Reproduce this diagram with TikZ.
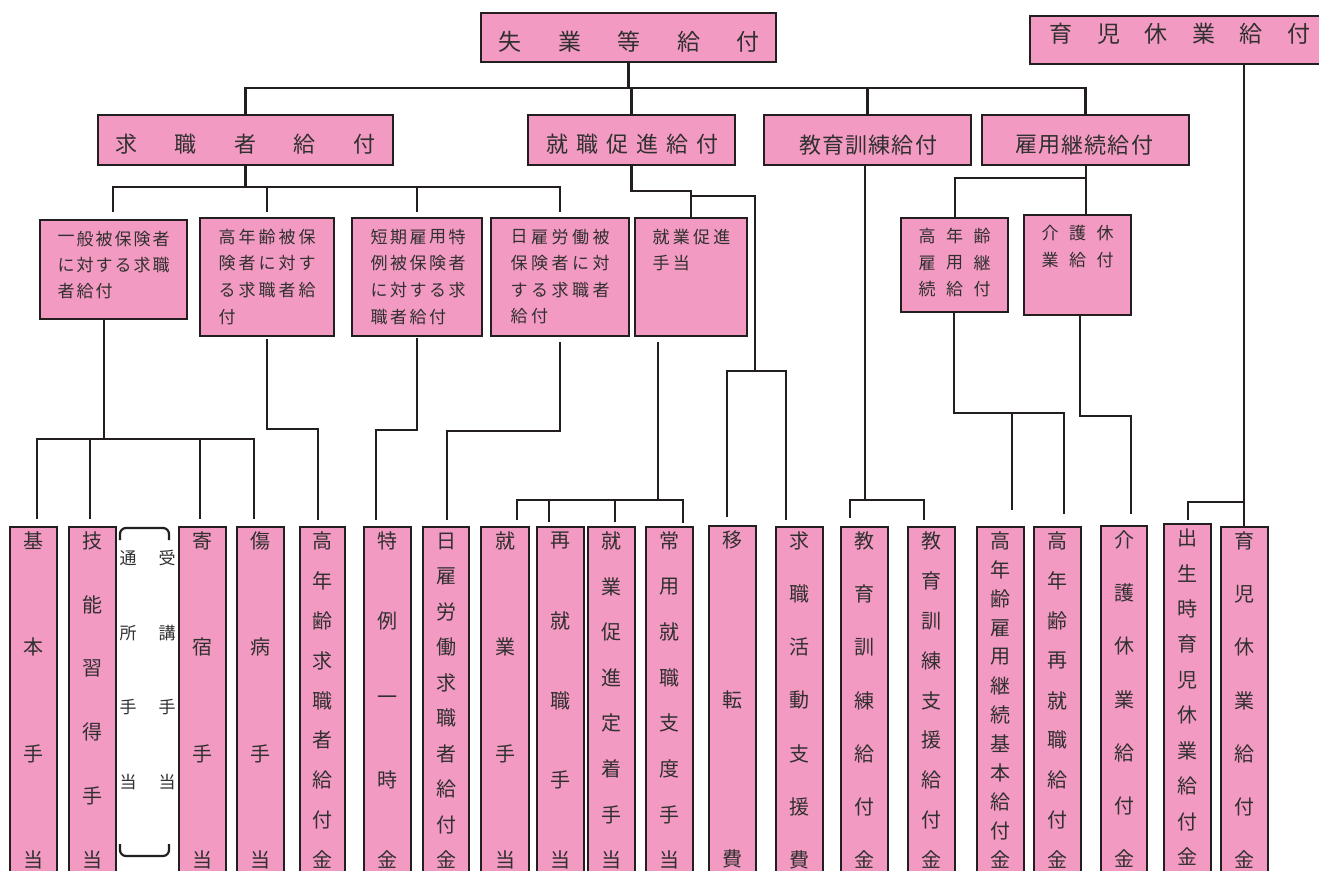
\documentclass[tikz,border=0pt]{standalone}
\usepackage{fontspec}
\setmainfont{Noto Sans CJK JP}
\definecolor{pk}{RGB}{243,154,194}
\definecolor{lc}{HTML}{231F20}
\definecolor{tc}{HTML}{303030}
\tikzset{
  pbox/.style={draw=lc, fill=pk, line width=2.3pt, inner sep=0pt, outer sep=0pt},
  conn/.style={draw=lc, line width=2.2pt},
  ctext/.style={text=tc, inner sep=0pt, font=\fontsize{20}{20}\selectfont},
  ttext/.style={text=tc, inner sep=0pt, font=\fontsize{23}{23}\selectfont},
  stext/.style={text=tc, inner sep=0pt, font=\fontsize{22}{22}\selectfont},
  mtext/.style={text=tc, inner sep=0pt, font=\fontsize{17}{17}\selectfont},
  btext/.style={text=tc, inner sep=0pt, font=\fontsize{17}{17}\selectfont},
}
\newcommand\rbox[5]{\node[pbox, minimum width={#4-#2}, minimum height={#5-#3}] (#1) at ({(#2+#4)/2},{(#3+#5)/2}) {};}
\newcommand\crow[6]{\foreach \ch [count=\i from 0] in {#6} {\node[#1] (#2-\i) at ({#3+\i*#4},#5) {\ch};}}
\newcommand\vcol[6]{%
  \node[pbox, anchor=north west, minimum width={#3-#2}, minimum height={920-#4}] (#1) at (#2,#4) {};
  \pgfmathsetmacro\vgap{319/(#5-1)}%
  \foreach \ch [count=\i from 0] in {#6} {\node[ctext] (#1-\i) at ({(#2+#3)/2},{#4+14+\i*\vgap}) {\ch};}%
}
\begin{document}
\begin{tikzpicture}[x=1pt,y=-1pt]
\fill[white] (0,0) rectangle (1319,870);
\useasboundingbox (0,0) rectangle (1319,870);

% ---- top level
\rbox{shitsugyo}{481}{13}{776}{62}
\rbox{ikujiT}{1030}{16}{1345}{64}
\crow{ttext}{shitsugyoT}{510}{59.5}{42}{失,業,等,給,付}
\crow{ttext}{ikujiTT}{1061}{47.6}{34}{育,児,休,業,給,付}

% ---- second level
\rbox{kyushoku}{98}{115}{393}{165}
\rbox{shushoku}{528}{115}{735}{165}
\rbox{kyoiku}{764}{115}{971}{165}
\rbox{koyo}{982}{115}{1189}{165}
\crow{stext}{kyushokuT}{126}{59.5}{144}{求,職,者,給,付}
\crow{stext}{shushokuT}{557}{30}{144}{就,職,促,進,給,付}
\crow{stext}{kyoikuT}{810}{23.2}{145}{教,育,訓,練,給,付}
\crow{stext}{koyoT}{1026}{23.2}{145}{雇,用,継,続,給,付}

% ---- third level
\rbox{ippan}{40}{220}{187}{319}
\rbox{konenH}{200}{218}{334}{336}
\rbox{tanki}{352}{218}{482}{336}
\rbox{hiyatoiH}{491}{218}{629}{336}
\rbox{shoshin}{635}{218}{747}{336}
\rbox{koreiK}{901}{218}{1008}{312}
\rbox{kaigoK}{1024}{215}{1131}{315}

\crow{mtext}{ippanA}{66}{19}{239}{一,般,被,保,険,者}
\crow{mtext}{ippanB}{66}{19}{265}{に,対,す,る,求,職}
\crow{mtext}{ippanC}{66}{19}{291}{者,給,付}

\crow{mtext}{konenA}{227}{20}{237}{高,年,齢,被,保}
\crow{mtext}{konenB}{227}{20}{263}{険,者,に,対,す}
\crow{mtext}{konenC}{227}{20}{290}{る,求,職,者,給}
\crow{mtext}{konenD}{227}{20}{317}{付}

\crow{mtext}{tankiA}{379}{19.5}{237}{短,期,雇,用,特}
\crow{mtext}{tankiB}{379}{19.5}{263}{例,被,保,険,者}
\crow{mtext}{tankiC}{379}{19.5}{290}{に,対,す,る,求}
\crow{mtext}{tankiD}{379}{19.5}{317}{職,者,給,付}

\crow{mtext}{hiyaA}{519}{20.5}{237}{日,雇,労,働,被}
\crow{mtext}{hiyaB}{519}{20.5}{263}{保,険,者,に,対}
\crow{mtext}{hiyaC}{519}{20.5}{290}{す,る,求,職,者}
\crow{mtext}{hiyaD}{519}{20.5}{316}{給,付}

\crow{mtext}{shoshinA}{661}{20.3}{237}{就,業,促,進}
\crow{mtext}{shoshinB}{661}{20.3}{263}{手,当}

\crow{mtext}{koreiA}{927}{27.5}{236}{高,年,齢}
\crow{mtext}{koreiB}{927}{27.5}{263}{雇,用,継}
\crow{mtext}{koreiC}{927}{27.5}{289}{続,給,付}

\crow{mtext}{kaigoA}{1050}{27.5}{233}{介,護,休}
\crow{mtext}{kaigoB}{1050}{27.5}{260}{業,給,付}

% ---- bottom columns
\vcol{kihon}{10}{57}{527}{4}{基,本,手,当}
\vcol{gino}{69}{116}{527}{6}{技,能,習,得,手,当}
\vcol{kishuku}{179}{226}{527}{4}{寄,宿,手,当}
\vcol{shobyo}{237}{284}{527}{4}{傷,病,手,当}
\vcol{konenkyu}{300}{345}{527}{9}{高,年,齢,求,職,者,給,付,金}
\vcol{tokurei}{364}{411}{527}{5}{特,例,一,時,金}
\vcol{hiyatoi}{423}{469}{527}{10}{日,雇,労,働,求,職,者,給,付,金}
\vcol{shugyo}{481}{529}{527}{4}{就,業,手,当}
\vcol{saishu}{537}{584}{527}{5}{再,就,職,手,当}
\vcol{teichaku}{588}{635}{527}{8}{就,業,促,進,定,着,手,当}
\vcol{joyo}{646}{693}{527}{8}{常,用,就,職,支,度,手,当}
\vcol{iten}{709}{756}{526}{3}{移,転,費}
\vcol{katsudo}{776}{823}{527}{7}{求,職,活,動,支,援,費}
\vcol{kyoikuK}{841}{888}{527}{7}{教,育,訓,練,給,付,金}
\vcol{kyoikuS}{908}{955}{527}{9}{教,育,訓,練,支,援,給,付,金}
\vcol{keizokuK}{977}{1024}{527}{12}{高,年,齢,雇,用,継,続,基,本,給,付,金}
\vcol{saishuK}{1034}{1081}{527}{9}{高,年,齢,再,就,職,給,付,金}
\vcol{kaigoKin}{1101}{1147}{526}{7}{介,護,休,業,給,付,金}
\vcol{shussei}{1164}{1211}{524}{10}{出,生,時,育,児,休,業,給,付,金}
\vcol{ikujiK}{1221}{1268}{527}{7}{育,児,休,業,給,付,金}

% bracket with 通所手当 / 受講手当
\draw[conn, rounded corners=6pt] (120,540) -- (120,528) -- (169,528) -- (169,540);
\draw[conn, rounded corners=6pt] (120,844) -- (120,856) -- (169,856) -- (169,844);
\crow{btext}{tsushoA}{128}{0}{558}{通}
\crow{btext}{tsushoB}{128}{0}{633}{所}
\crow{btext}{tsushoC}{128}{0}{707}{手}
\crow{btext}{tsushoD}{128}{0}{782}{当}
\crow{btext}{jukoA}{167}{0}{558}{受}
\crow{btext}{jukoB}{167}{0}{633}{講}
\crow{btext}{jukoC}{167}{0}{707}{手}
\crow{btext}{jukoD}{167}{0}{782}{当}

% ---- connectors: top level
\draw[conn] (shitsugyo.south) -- (shitsugyo.south |- 0,88);
\draw[conn] (kyushoku.north) |- (koyo.north |- 0,88) -- (koyo.north);
\draw[conn] (shushoku.north) -- (shushoku.north |- 0,88);
\draw[conn] (kyoiku.north) -- (kyoiku.north |- 0,88);
\draw[conn] (ikujiT.south -| 1244,0) -- (ikujiK.north -| 1244,0);
\coordinate (shusseiTop) at (1188,520);
\draw[conn] (shusseiTop) |- (1244,502);

% kyushoku children
\coordinate (ippanTop) at (113,212);
\coordinate (konenTop) at (267,212);
\coordinate (tankiTop) at (417,212);
\coordinate (hiyaTop) at (560,212);
\draw[conn] (kyushoku.south) -- (kyushoku.south |- 0,187);
\draw[conn] (ippanTop) |- (hiyaTop |- 0,187) -- (hiyaTop);
\draw[conn] (konenTop) -- (konenTop |- 0,187);
\draw[conn] (tankiTop) -- (tankiTop |- 0,187);

% shushoku children
\draw[conn] (shushoku.south) |- (shoshin.north |- 0,191) -- (shoshin.north);
\coordinate (itenJ) at (755,371);
\draw[conn] (691,196) -- (755,196) -- (itenJ);
\coordinate (itenTop) at (727,517);
\coordinate (katsuTop) at (786,520);
\draw[conn] (itenTop) |- (786,371) -- (katsuTop);

% shoshin children
\coordinate (shoshinB) at (658,342);
\draw[conn] (shoshinB) -- (658,500);
\coordinate (shugyoTop) at (517,520);
\coordinate (joyoTop) at (683,523);
\draw[conn] (shugyoTop) |- (joyoTop |- 0,500) -- (joyoTop);
\draw[conn] (549,500) -- (549,522);
\draw[conn] (615,500) -- (615,522);

% ippan children
\draw[conn] (ippan.south -| 104,0) -- (104,439);
\coordinate (kihonTop) at (37,519);
\coordinate (shobyoTop) at (254,519);
\draw[conn] (kihonTop) |- (shobyoTop |- 0,439) -- (shobyoTop);
\draw[conn] (90,439) -- (90,519);
\draw[conn] (200,439) -- (200,519);

% konen / tanki / hiyatoi
\coordinate (konenB) at (267,339);
\coordinate (konenkyuTop) at (318,520);
\draw[conn] (konenB) |- (konenkyuTop |- 0,429) -- (konenkyuTop);
\coordinate (tankiB) at (417,338);
\coordinate (tokureiTop) at (376,520);
\draw[conn] (tankiB) |- (tokureiTop |- 0,430) -- (tokureiTop);
\coordinate (hiyaB) at (560,342);
\coordinate (hiyatoiTop) at (447,520);
\draw[conn] (hiyaB) |- (hiyatoiTop |- 0,431) -- (hiyatoiTop);

% kyoiku children
\draw[conn] (kyoiku.south -| 865,0) -- (865,500);
\coordinate (kyKTop) at (850,518);
\coordinate (kySTop) at (924,520);
\draw[conn] (kyKTop) |- (kySTop |- 0,500) -- (kySTop);

% koyo children
\draw[conn] (koyo.south -| 1086,0) -- (1086,178);
\draw[conn] (koreiK.north -| 955,0) |- (1086,178) -- (kaigoK.north -| 1086,0);
\coordinate (keizokuTop) at (1012,510);
\coordinate (saishuTop) at (1064,514);
\draw[conn] (koreiK.south -| 954,0) |- (saishuTop |- 0,413) -- (saishuTop);
\draw[conn] (1012,413) -- (keizokuTop);
\coordinate (kaigoTop) at (1131,514);
\draw[conn] (kaigoK.south -| 1080,0) |- (kaigoTop |- 0,416) -- (kaigoTop);
\end{tikzpicture}
\end{document}
